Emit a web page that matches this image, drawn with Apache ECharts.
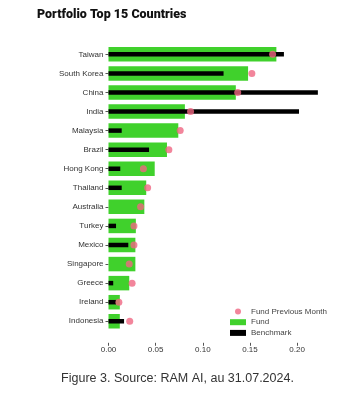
<!DOCTYPE html>
<html>
<head>
<meta charset="utf-8">
<script src="https://cdn.jsdelivr.net/npm/echarts@6/dist/echarts.min.js"></script>
<style>
html,body{margin:0;padding:0;background:#fff;}
#chart{width:355px;height:400px;}
</style>
</head>
<body>
<div id="chart"></div>
<script>
var countries = ['Taiwan','South Korea','China','India','Malaysia','Brazil','Hong Kong','Thailand','Australia','Turkey','Mexico','Singapore','Greece','Ireland','Indonesia'];
var fund = [0.178,0.148,0.135,0.081,0.074,0.062,0.049,0.040,0.038,0.029,0.0285,0.0285,0.022,0.012,0.012];
var benchmark = [0.186,0.122,0.222,0.202,0.014,0.043,0.0125,0.014,0,0.008,0.021,0,0.005,0.008,0.0165];
var fundPrev = [0.174,0.152,0.137,0.087,0.076,0.064,0.037,0.0415,0.034,0.027,0.027,0.022,0.025,0.011,0.0225];
var xTicks = [0,0.05,0.10,0.15,0.20];

var chart = echarts.init(document.getElementById('chart'));
var labelFont = {fontFamily:'Liberation Sans, Arial, sans-serif', fontSize:8, color:'#333'};
chart.setOption({
  animation:false,
  title:[{
    text:'Portfolio Top 15 Countries',
    left:37, top:8, padding:0,
    textStyle:{fontFamily:'Roboto', fontWeight:900, fontSize:12.5, color:'#111'}
  },{
    text:'Figure 3. Source: RAM AI, au 31.07.2024.',
    left:'center', top:367,
    textStyle:{fontFamily:'Liberation Sans, Arial, sans-serif', fontWeight:'normal', fontSize:12.5, color:'#333'}
  }],
  legend:{
    orient:'vertical', left:230, top:307, padding:0,
    itemWidth:16, itemHeight:6, itemGap:1.7,
    textStyle:{fontFamily:'Liberation Sans, Arial, sans-serif', fontSize:8, lineHeight:9, color:'#444'},
    data:[
      {name:'Fund Previous Month', icon:'circle'},
      {name:'Fund', icon:'rect'},
      {name:'Benchmark', icon:'rect'}
    ]
  },
  grid:{left:108.5, right:34.3, top:44.8, bottom:69.2},
  xAxis:{
    type:'value', min:0, max:0.225, offset:12,
    axisLine:{show:false},
    splitLine:{show:false},
    axisTick:{show:true, length:3, customValues:xTicks, lineStyle:{color:'#555'}},
    axisLabel:Object.assign({margin:3, customValues:xTicks, formatter:function(v){return v.toFixed(2);}}, labelFont)
  },
  yAxis:[{
    type:'category', data:countries, inverse:true,
    axisLine:{show:false},
    axisTick:{show:true, length:3, alignWithLabel:true, lineStyle:{color:'#555'}},
    axisLabel:Object.assign({margin:5}, labelFont)
  },{
    type:'category', data:countries, inverse:true, show:false, position:'left'
  }],
  series:[{
    name:'Fund', type:'bar', yAxisIndex:0, data:fund, barWidth:14.5,
    itemStyle:{color:'#40d12c'}, z:2
  },{
    name:'Benchmark', type:'bar', yAxisIndex:1, data:benchmark, barWidth:4.5,
    itemStyle:{color:'#000'}, z:3
  },{
    name:'Fund Previous Month', type:'scatter', yAxisIndex:0, data:fundPrev, symbolSize:7,
    itemStyle:{color:'#ef6682'}, z:4
  }]
});
</script>
</body>
</html>
